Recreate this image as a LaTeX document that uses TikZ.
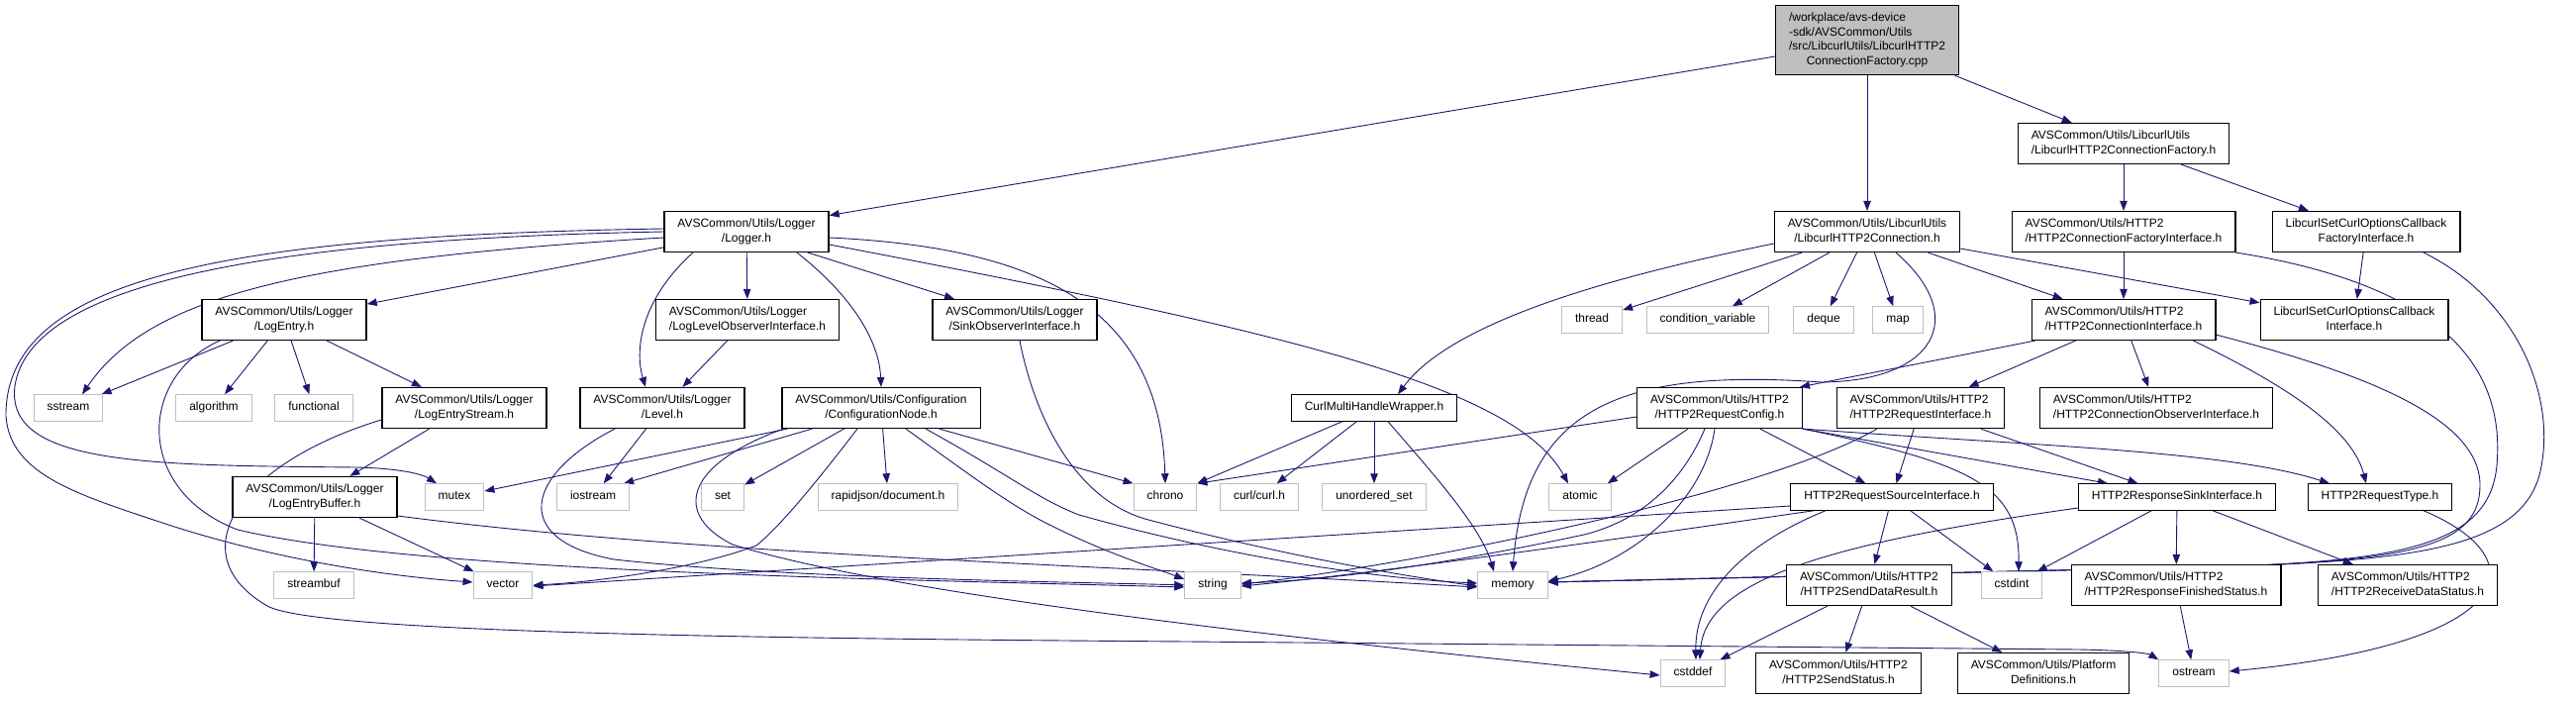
\documentclass[tikz,border=0pt]{standalone}
\usepackage{fontspec}
\usepackage{tikz}
\usetikzlibrary{arrows.meta}
\newfontfamily\dxfont{Liberation Sans}
\definecolor{edgeblue}{HTML}{191970}
\definecolor{sysgray}{HTML}{BFBFBF}
\pgfdeclarelayer{edges}
\pgfsetlayers{edges,main}
\newcommand{\flab}[2]{\begin{tabular}{@{}l@{}}#1\\\multicolumn{1}{@{}c@{}}{#2}\end{tabular}}

\begin{document}
\begin{tikzpicture}[x=1pt, y=-1pt,
  file/.style={rectangle, fill=white, line width=1.2pt, inner xsep=13.5pt, inner ysep=5.8pt, font=\dxfont\fontsize{12}{14.7}\selectfont},
  srcfile/.style={file, draw=black},
  onefile/.style={srcfile, text height=10.3pt, text depth=4.4pt},
  sysfile/.style={file, draw=sysgray, text height=10.3pt, text depth=4.4pt},
  rootfile/.style={srcfile, fill=sysgray},
  inc/.style={draw=edgeblue, line width=0.9pt, -{Triangle[length=10pt,width=7.5pt]}}]
\useasboundingbox (0,0) rectangle (2602,707);
\node[rootfile] (cpp) at (1886,40.5) {\flab{/workplace/avs-device\\-sdk/AVSCommon/Utils\\/src/LibcurlUtils/LibcurlHTTP2}{ConnectionFactory.cpp}};
\node[srcfile] (cfact) at (2145,145) {\flab{AVSCommon/Utils/LibcurlUtils}{/LibcurlHTTP2ConnectionFactory.h}};
\node[srcfile] (logger) at (754,234) {\flab{AVSCommon/Utils/Logger}{/Logger.h}};
\node[srcfile] (conn) at (1886,234) {\flab{AVSCommon/Utils/LibcurlUtils}{/LibcurlHTTP2Connection.h}};
\node[srcfile] (faciface) at (2145,234) {\flab{AVSCommon/Utils/HTTP2}{/HTTP2ConnectionFactoryInterface.h}};
\node[srcfile] (cbfact) at (2390,234) {\flab{LibcurlSetCurlOptionsCallback}{FactoryInterface.h}};
\node[srcfile] (logentry) at (287,323) {\flab{AVSCommon/Utils/Logger}{/LogEntry.h}};
\node[srcfile] (lvlobs) at (755,323) {\flab{AVSCommon/Utils/Logger}{/LogLevelObserverInterface.h}};
\node[srcfile] (sinkobs) at (1025,323) {\flab{AVSCommon/Utils/Logger}{/SinkObserverInterface.h}};
\node[sysfile] (thread) at (1608,323) {thread};
\node[sysfile] (condvar) at (1725,323) {condition\_variable};
\node[sysfile] (deque) at (1842,323) {deque};
\node[sysfile] (map) at (1917,323) {map};
\node[srcfile] (conniface) at (2145,323) {\flab{AVSCommon/Utils/HTTP2}{/HTTP2ConnectionInterface.h}};
\node[srcfile] (cbiface) at (2378,323) {\flab{LibcurlSetCurlOptionsCallback}{Interface.h}};
\node[sysfile] (sstream) at (69,412) {sstream};
\node[sysfile] (algorithm) at (216,412) {algorithm};
\node[sysfile] (functional) at (317,412) {functional};
\node[srcfile] (logstream) at (469,412) {\flab{AVSCommon/Utils/Logger}{/LogEntryStream.h}};
\node[srcfile] (level) at (669,412) {\flab{AVSCommon/Utils/Logger}{/Level.h}};
\node[srcfile] (confnode) at (890,412) {\flab{AVSCommon/Utils/Configuration}{/ConfigurationNode.h}};
\node[onefile] (curlmulti) at (1388,412) {CurlMultiHandleWrapper.h};
\node[srcfile] (reqconfig) at (1737,412) {\flab{AVSCommon/Utils/HTTP2}{/HTTP2RequestConfig.h}};
\node[srcfile] (reqiface) at (1940,412) {\flab{AVSCommon/Utils/HTTP2}{/HTTP2RequestInterface.h}};
\node[srcfile] (obsiface) at (2178,412) {\flab{AVSCommon/Utils/HTTP2}{/HTTP2ConnectionObserverInterface.h}};
\node[srcfile] (logbuffer) at (318,502) {\flab{AVSCommon/Utils/Logger}{/LogEntryBuffer.h}};
\node[sysfile] (mutex) at (459,502) {mutex};
\node[sysfile] (iostream) at (599,502) {iostream};
\node[sysfile] (set) at (730,502) {set};
\node[sysfile] (rapidjson) at (897,502) {rapidjson/document.h};
\node[sysfile] (chrono) at (1177,502) {chrono};
\node[sysfile] (curl) at (1272,502) {curl/curl.h};
\node[sysfile] (uset) at (1388,502) {unordered\_set};
\node[sysfile] (atomic) at (1596,502) {atomic};
\node[onefile] (reqsource) at (1911,502) {HTTP2RequestSourceInterface.h};
\node[onefile] (respsink) at (2199,502) {HTTP2ResponseSinkInterface.h};
\node[onefile] (reqtype) at (2404,502) {HTTP2RequestType.h};
\node[sysfile] (streambuf) at (317,591) {streambuf};
\node[sysfile] (vector) at (508,591) {vector};
\node[sysfile] (string) at (1225,591) {string};
\node[sysfile] (memory) at (1528,591) {memory};
\node[srcfile] (senddata) at (1888,591) {\flab{AVSCommon/Utils/HTTP2}{/HTTP2SendDataResult.h}};
\node[sysfile] (cstdint) at (2032,591) {cstdint};
\node[srcfile] (respfin) at (2198,591) {\flab{AVSCommon/Utils/HTTP2}{/HTTP2ResponseFinishedStatus.h}};
\node[srcfile] (recvdata) at (2432,591) {\flab{AVSCommon/Utils/HTTP2}{/HTTP2ReceiveDataStatus.h}};
\node[sysfile] (cstddef) at (1710,680) {cstddef};
\node[srcfile] (sendstatus) at (1857,680) {\flab{AVSCommon/Utils/HTTP2}{/HTTP2SendStatus.h}};
\node[srcfile] (platform) at (2064,680) {\flab{AVSCommon/Utils/Platform}{Definitions.h}};
\node[sysfile] (ostream) at (2216,680) {ostream};
\begin{pgfonlayer}{edges}
\draw[inc] ([yshift=-16.5]cpp.west) -- ([yshift=16.5]logger.east);
\draw[inc] (cpp) -- (conn);
\draw[inc] (cpp) -- (cfact);
\draw[inc] (cfact) -- (faciface);
\draw[inc] (cfact) -- (cbfact);
\draw[inc] (faciface) -- (conniface);
\draw[inc] (faciface.south east) .. controls (2480,290) and (2530,380) .. (2522,470) .. controls (2515,545) and (2440,566) .. (2250,572) -- ([yshift=3]memory.east);
\draw[inc] (cbfact) -- (cbiface);
\draw[inc] ([xshift=58]cbfact.south) .. controls (2540,300) and (2585,400) .. (2565,480) .. controls (2545,550) and (2450,566) .. (2250,572) -- ([yshift=3]memory.east);
\draw[inc] ([yshift=-12]conn.west) .. controls (1650,275) and (1470,320) .. ([xshift=24]curlmulti.north);
\draw[inc] (conn) -- (thread);
\draw[inc] (conn) -- (condvar);
\draw[inc] (conn) -- (deque);
\draw[inc] (conn) -- (map);
\draw[inc] ([xshift=29]conn.south) .. controls (1990,320) and (1955,385) .. (1840,386) .. controls (1640,372) and (1540,410) .. (memory.north);
\draw[inc] (conn) -- (conniface);
\draw[inc] (conn) -- (cbiface);
\draw[inc] ([xshift=4]conniface.south west) -- ([xshift=-3]reqconfig.north east);
\draw[inc] (conniface) -- (reqiface);
\draw[inc] (conniface) -- (obsiface);
\draw[inc] ([xshift=-23]conniface.south east) .. controls (2300,385) and (2375,430) .. ([xshift=-14]reqtype.north);
\draw[inc] ([yshift=6]conniface.south east) .. controls (2380,375) and (2505,420) .. (2505,490) .. controls (2505,550) and (2440,566) .. (2250,572) -- ([yshift=3]memory.east);
\draw[inc] (logger) -- (logentry);
\draw[inc] (logger) -- (lvlobs);
\draw[inc] ([xshift=-54]logger.south) .. controls (650,300) and (640,350) .. ([xshift=-17]level.north);
\draw[inc] (lvlobs) -- (level);
\draw[inc] ([xshift=51]logger.south) .. controls (862,300) and (888,345) .. (confnode.north);
\draw[inc] ([xshift=62]logger.south) -- ([xshift=-61]sinkobs.north);
\draw[inc] ([yshift=-6]logger.east) .. controls (1050,250) and (1172,310) .. (chrono.north);
\draw[inc] ([yshift=-13]logger.east) .. controls (1300,335) and (1530,390) .. ([xshift=-12]atomic.north);
\draw[inc] ([yshift=-6]logger.west) .. controls (300,262) and (150,300) .. ([xshift=14]sstream.north);
\draw[inc] (logger.west) .. controls (250,242) and (30,290) .. (15,390) .. controls (5,470) and (150,470) .. (360,472) .. controls (400,473) and (425,478) .. ([xshift=-18]mutex.north);
\draw[inc] ([yshift=3]logger.west) .. controls (230,238) and (5,280) .. (6,420) .. controls (10,480) and (80,500) .. (170,530) .. controls (300,572) and (420,584) .. ([yshift=3]vector.west);
\draw[inc] (logentry) -- (sstream);
\draw[inc] (logentry) -- (algorithm);
\draw[inc] (logentry) -- (functional);
\draw[inc] (logentry) -- (logstream);
\draw[inc] ([xshift=-65]logentry.south) .. controls (140,380) and (135,495) .. (240,535) .. controls (420,578) and (900,585) .. ([yshift=-2]string.west);
\draw[inc] (logstream) -- (logbuffer);
\draw[inc] ([yshift=-12]logstream.west) .. controls (240,468) and (180,560) .. (270,612) .. controls (320,640) and (800,645) .. (1200,648) -- (2100,656) .. controls (2150,657) and (2170,660) .. (ostream.north west);
\draw[inc] (logbuffer) -- (streambuf);
\draw[inc] (logbuffer) -- (vector);
\draw[inc] ([yshift=-19]logbuffer.east) .. controls (700,560) and (1100,570) .. ([yshift=-2]memory.west);
\draw[inc] (level) -- (iostream);
\draw[inc] ([xshift=-48]level.south) .. controls (530,480) and (515,545) .. (620,565) .. controls (800,585) and (1100,588) .. (string.west);
\draw[inc] ([xshift=6]confnode.south west) -- ([yshift=6]mutex.east);
\draw[inc] ([xshift=31]confnode.south west) -- ([xshift=-6]iostream.north east);
\draw[inc] ([xshift=2]confnode.south west) .. controls (690,470) and (680,520) .. (740,550) .. controls (900,600) and (1300,645) .. ([yshift=-2]cstddef.west);
\draw[inc] (confnode) -- (set);
\draw[inc] ([xshift=-24]confnode.south) .. controls (830,480) and (790,530) .. (764,551) .. controls (700,575) and (600,588) .. (vector.east);
\draw[inc] (confnode) -- (rapidjson);
\draw[inc] ([xshift=25]confnode.south) .. controls (980,480) and (1020,510) .. (1060,530) .. controls (1120,560) and (1170,575) .. ([yshift=6]string.west);
\draw[inc] ([xshift=45]confnode.south) .. controls (1020,480) and (1050,505) .. (1090,520) .. controls (1250,565) and (1400,585) .. ([yshift=2]memory.west);
\draw[inc] ([xshift=-42]confnode.south east) -- (chrono.north west);
\draw[inc] ([xshift=5]sinkobs.south) .. controls (1045,420) and (1085,505) .. (1160,525) .. controls (1300,562) and (1420,582) .. ([yshift=-1]memory.west);
\draw[inc] (curlmulti) -- (chrono);
\draw[inc] (curlmulti) -- (curl);
\draw[inc] (curlmulti) -- (uset);
\draw[inc] ([xshift=14]curlmulti.south) .. controls (1440,470) and (1495,530) .. ([xshift=-19]memory.north);
\draw[inc] ([yshift=-9]reqconfig.west) -- (chrono.north east);
\draw[inc] ([xshift=-32]reqconfig.south) -- ([xshift=-4]atomic.north east);
\draw[inc] ([xshift=-15]reqconfig.south) .. controls (1700,485) and (1660,525) .. (1600,540) .. controls (1450,572) and (1340,586) .. ([yshift=2]string.east);
\draw[inc] ([xshift=-5]reqconfig.south) .. controls (1722,505) and (1650,568) .. ([yshift=4]memory.east);
\draw[inc] (reqconfig) -- (reqsource);
\draw[inc] (reqconfig.south east) -- ([xshift=-70]respsink.north);
\draw[inc] (reqconfig.south east) .. controls (2050,450) and (2250,455) .. ([xshift=-51]reqtype.north);
\draw[inc] (reqconfig.south east) .. controls (1990,468) and (2040,490) .. ([xshift=7]cstdint.north);
\draw[inc] (reqiface) -- (reqsource);
\draw[inc] (reqiface) -- (respsink);
\draw[inc] ([xshift=-44]reqiface.south) .. controls (1780,500) and (1420,572) .. ([yshift=1]string.east);
\draw[inc] (reqsource) -- (senddata);
\draw[inc] (reqsource) -- (cstdint);
\draw[inc] ([xshift=-67]reqsource.south) .. controls (1760,550) and (1712,600) .. ([xshift=3]cstddef.north);
\draw[inc] ([yshift=-9]reqsource.west) -- ([yshift=-1]vector.east);
\draw[inc] ([xshift=-79]reqsource.south) .. controls (1700,535) and (1400,578) .. ([yshift=-1]string.east);
\draw[inc] (respsink) -- (cstdint);
\draw[inc] (respsink) -- (respfin);
\draw[inc] (respsink) -- (recvdata);
\draw[inc] ([yshift=-11]respsink.west) .. controls (1850,548) and (1722,585) .. ([xshift=7]cstddef.north);
\draw[inc] ([xshift=44]reqtype.south) .. controls (2565,565) and (2545,650) .. ([yshift=2]ostream.east);
\draw[inc] (respfin) -- (ostream);
\draw[inc] (senddata) -- (cstddef);
\draw[inc] (senddata) -- (sendstatus);
\draw[inc] (senddata) -- (platform);
\end{pgfonlayer}
\end{tikzpicture}
\end{document}
